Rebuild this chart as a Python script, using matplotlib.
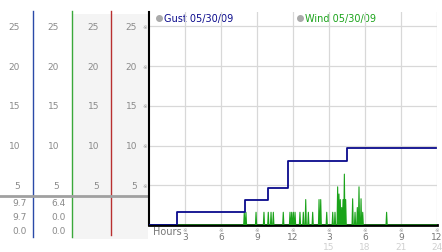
import matplotlib
matplotlib.use("Agg")
import matplotlib.pyplot as plt
import matplotlib.transforms as mtransforms
import numpy as np

# gust: step series (hour, mph)
gust_hours = [0, 2.3, 8.0, 9.95, 11.55, 16.5, 23.9]
gust_vals = [0, 1.6, 3.2, 4.7, 8.0, 9.7, 9.7]

# wind: short spikes (hour of spike, peak mph)
wind_hours = [7.94, 8.08, 8.92, 9.58, 9.94, 10.17, 10.36, 11.19, 11.75, 11.89,
              12.03, 12.17, 12.58, 12.86, 13.06, 13.28, 13.64, 14.17, 14.31,
              14.81, 15.31, 15.5, 15.72, 15.83, 15.94, 16.06, 16.17, 16.28,
              16.39, 16.97, 17.17, 17.36, 17.5, 17.67, 17.81, 19.8]
wind_peaks = [1.6, 1.6, 1.6, 1.6, 1.6, 1.6, 1.6, 1.6, 1.6, 1.6,
              1.6, 1.6, 1.6, 1.6, 3.2, 1.6, 1.6, 3.2, 3.2,
              1.6, 1.6, 1.6, 4.8, 3.9, 3.2, 2.2, 3.2, 6.4,
              3.2, 3.3, 1.6, 2.2, 4.8, 3.3, 1.6, 1.6]

ytick_vals = [5, 10, 15, 20, 25]
xtick_hours = [3, 6, 9, 12, 15, 18, 21, 24]
xtick_labels = ["3", "6", "9", "12", "3", "6", "9", "12"]
xtick_24 = ["15", "18", "21", "24"]
table_rows = [["9.7", "6.4"], ["9.7", "0.0"], ["0.0", "0.0"]]

NAVY = "#0a0a8c"
GREEN = "#1aa31a"
GRAY = "#8a8a8a"

W, H = 442, 253
fig = plt.figure(figsize=(W / 100, H / 100), dpi=100)

# background axes in pixel coords
bg = fig.add_axes([0, 0, 1, 1], zorder=-1)
bg.set_xlim(0, W)
bg.set_ylim(H, 0)
bg.axis("off")

ax = fig.add_axes([149 / W, (H - 226) / H, 288 / W, 213 / H])
ax.set_xlim(0, 24)
ax.set_ylim(0, 26.8)
ax.patch.set_alpha(0)

# shaded columns of left panel
bg.fill_between([72, 148], 15, 240, color="#f4f4f4", lw=0)
# column rules
for xc, col, y1 in [(33, "#2a4aa8", 238), (72, "#3aa83a", 238), (111, "#b83030", 236)]:
    bg.plot([xc, xc], [12, y1], color=col, lw=1)
bg.plot([0, 148], [197, 197], color="#a0a0a0", lw=2)

# y labels of the panel, aligned with main axis values
tr = mtransforms.blended_transform_factory(bg.transData, ax.transData)
for v in ytick_vals:
    for xr in [20, 59, 99, 137]:
        bg.text(xr, v, str(v), transform=tr, ha="right", va="center",
                fontsize=6.5, color=GRAY)
    bg.text(145, v, "※", transform=tr, ha="center", va="center",
            fontsize=4, color="#999999")

for i, row in enumerate(table_rows):
    y = 204 + i * 14
    bg.text(27, y, row[0], ha="right", va="center", fontsize=6.5, color=GRAY)
    bg.text(66, y, row[1], ha="right", va="center", fontsize=6.5, color=GRAY)

# main grid
for h in xtick_hours:
    ax.axvline(h, color="#d8d8d8", lw=0.9, zorder=0)
for v in ytick_vals:
    ax.axhline(v, color="#d8d8d8", lw=0.9, zorder=0)

# wind spikes
wx, wy = [0], [0]
for h, p in zip(wind_hours, wind_peaks):
    wx += [h - 0.05, h, h + 0.05]
    wy += [0, p, 0]
wx.append(24)
wy.append(0)
ax.plot(wx, wy, color=GREEN, lw=0.8, zorder=3)

ax.step(gust_hours, gust_vals, where="post", color=NAVY, lw=1.3, zorder=4)

for s in ["top", "right"]:
    ax.spines[s].set_visible(False)
ax.spines["left"].set_linewidth(1.5)
ax.spines["bottom"].set_linewidth(2)
ax.spines["bottom"].set_zorder(2)
ax.set_xticks([])
ax.set_yticks([])

# x labels
trx = mtransforms.blended_transform_factory(ax.transData, bg.transData)
for h, lab in zip(xtick_hours, xtick_labels):
    bg.text(h, 230.5, "※", transform=trx, ha="center", va="center",
            fontsize=4, color="#999999")
    bg.text(h, 237.5, lab, transform=trx, ha="center", va="center",
            fontsize=6.5, color="#777777")
for h, lab in zip(xtick_hours[4:], xtick_24):
    bg.text(h, 248, lab, transform=trx, ha="center", va="center",
            fontsize=6.5, color="#d0d0d0")
bg.text(153, 232, "Hours", ha="left", va="center", fontsize=7, color="#777777")

# legend
bg.plot([159], [19], "o", ms=4, color="#aaaaaa")
bg.text(164, 19, "Gust 05/30/09", ha="left", va="center", fontsize=7, color=NAVY)
bg.plot([300], [19], "o", ms=4, color="#aaaaaa")
bg.text(305, 19, "Wind 05/30/09", ha="left", va="center", fontsize=7, color=GREEN)

fig.savefig("out.png", dpi=100)
